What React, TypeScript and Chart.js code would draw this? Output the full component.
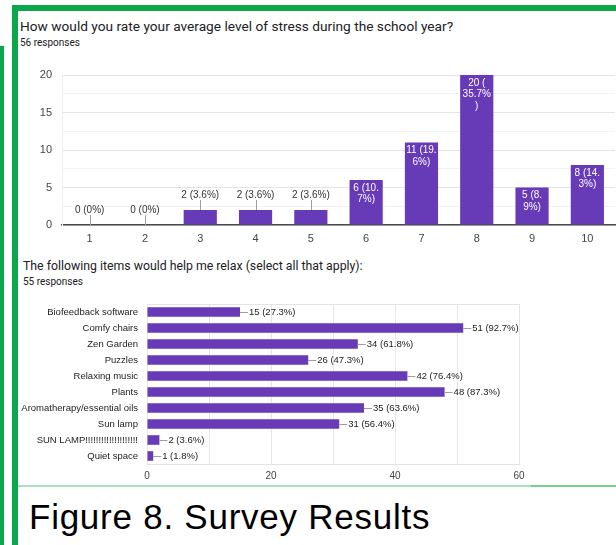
import React, { useEffect, useRef } from 'react';
import { Chart, registerables } from 'chart.js';

Chart.register(...registerables);

// ---- Data: chart 1 (stress level) ----
const stressLevels = ['1', '2', '3', '4', '5', '6', '7', '8', '9', '10'];
const stressCounts = [0, 0, 2, 2, 2, 6, 11, 20, 5, 8];
const stressLabelLines = [
  ['0 (0%)'],
  ['0 (0%)'],
  ['2 (3.6%)'],
  ['2 (3.6%)'],
  ['2 (3.6%)'],
  ['6 (10.', '7%)'],
  ['11 (19.', '6%)'],
  ['20 (', '35.7%', ')'],
  ['5 (8.', '9%)'],
  ['8 (14.', '3%)'],
];
const stressTicks = [0, 5, 10, 15, 20];

// ---- Data: chart 2 (relax items) ----
const relaxItems = [
  'Biofeedback software',
  'Comfy chairs',
  'Zen Garden',
  'Puzzles',
  'Relaxing music',
  'Plants',
  'Aromatherapy/essential oils',
  'Sun lamp',
  'SUN LAMP!!!!!!!!!!!!!!!!!!!!',
  'Quiet space',
];
const relaxCounts = [15, 51, 34, 26, 42, 48, 35, 31, 2, 1];
const relaxPercents = ['27.3%', '92.7%', '61.8%', '47.3%', '76.4%', '87.3%', '63.6%', '56.4%', '3.6%', '1.8%'];
const relaxTicks = [0, 20, 40, 60];

const PURPLE = '#673ab7';
const GREEN = '#0aa84b';
const FONT = 'Arial, "Liberation Sans", sans-serif';
const CLEAR = 'rgba(0,0,0,0)';

const stressLabelPlugin = {
  id: 'stressLabels',
  afterDatasetsDraw(chart: any) {
    const ctx = chart.ctx;
    const meta = chart.getDatasetMeta(0);
    meta.data.forEach((bar: any, i: number) => {
      const v = stressCounts[i];
      const lines = stressLabelLines[i];
      const x = bar.x;
      const y = bar.y;
      ctx.save();
      ctx.font = `10px ${FONT}`;
      ctx.textAlign = 'center';
      ctx.textBaseline = 'middle';
      if (v <= 2) {
        ctx.strokeStyle = '#9e9e9e';
        ctx.lineWidth = 1;
        ctx.beginPath();
        ctx.moveTo(Math.round(x) + 0.5, y);
        ctx.lineTo(Math.round(x) + 0.5, y - 10);
        ctx.stroke();
        ctx.fillStyle = '#333';
        ctx.fillText(lines.join(''), x, y - 15);
      } else {
        ctx.fillStyle = '#ffffff';
        lines.forEach((ln, k) => ctx.fillText(ln, x, y + 8 + k * 11.5));
      }
      ctx.restore();
    });
  },
};

const relaxLabelPlugin = {
  id: 'relaxLabels',
  afterDatasetsDraw(chart: any) {
    const ctx = chart.ctx;
    const meta = chart.getDatasetMeta(0);
    meta.data.forEach((bar: any, i: number) => {
      const x = bar.x;
      const y = bar.y;
      ctx.save();
      ctx.strokeStyle = '#9e9e9e';
      ctx.lineWidth = 1;
      ctx.beginPath();
      ctx.moveTo(x, Math.round(y) + 0.5);
      ctx.lineTo(x + 8, Math.round(y) + 0.5);
      ctx.stroke();
      ctx.font = `9.5px ${FONT}`;
      ctx.textAlign = 'left';
      ctx.textBaseline = 'middle';
      ctx.fillStyle = '#222';
      ctx.fillText(`${relaxCounts[i]} (${relaxPercents[i]})`, x + 9, y);
      ctx.restore();
    });
  },
};

const boxPlugin = {
  id: 'boxTop',
  beforeDatasetsDraw(chart: any) {
    const { ctx, chartArea } = chart;
    ctx.save();
    ctx.strokeStyle = '#e3e3e3';
    ctx.lineWidth = 1;
    ctx.beginPath();
    ctx.moveTo(chartArea.left, Math.round(chartArea.top) + 0.5);
    ctx.lineTo(chartArea.right, Math.round(chartArea.top) + 0.5);
    ctx.stroke();
    ctx.restore();
  },
};

function StressChart() {
  const ref = useRef<HTMLCanvasElement>(null);
  useEffect(() => {
    const chart = new Chart(ref.current as HTMLCanvasElement, {
      type: 'bar',
      data: {
        labels: stressLevels,
        datasets: [
          {
            data: stressCounts,
            backgroundColor: PURPLE,
            barPercentage: 0.6,
            categoryPercentage: 1,
          },
        ],
      },
      options: {
        responsive: false,
        animation: false,
        devicePixelRatio: 1,
        layout: { padding: { top: 13, right: 1, left: 0, bottom: 0 } },
        plugins: { legend: { display: false }, tooltip: { enabled: false } },
        scales: {
          x: {
            grid: { display: false, drawTicks: false },
            border: { color: '#4a4a4a', width: 1.5 },
            ticks: { color: '#444', font: { size: 11, family: FONT }, padding: 7 },
            afterFit(s: any) {
              s.height = 22;
            },
          },
          y: {
            min: 0,
            max: 20,
            ticks: {
              stepSize: 2.5,
              autoSkip: false,
              color: '#444',
              font: { size: 11, family: FONT },
              padding: 0,
              callback: (v: any) => (stressTicks.includes(Number(v)) ? String(v) : ''),
            },
            grid: {
              drawTicks: true,
              tickLength: 10,
              tickColor: CLEAR,
              color: (c: any) => (c.tick && c.tick.value % 5 === 0 ? '#e4e4e4' : '#f3f3f3'),
            },
            border: { display: true, color: '#eeeeee' },
            afterFit(s: any) {
              s.width = 42;
            },
          },
        },
      } as any,
      plugins: [stressLabelPlugin],
    });
    return () => chart.destroy();
  }, []);
  return <canvas ref={ref} width={596} height={185} style={{ position: 'absolute', left: 20, top: 62, width: 596, height: 185 }} />;
}

function RelaxChart() {
  const ref = useRef<HTMLCanvasElement>(null);
  useEffect(() => {
    const chart = new Chart(ref.current as HTMLCanvasElement, {
      type: 'bar',
      data: {
        labels: relaxItems,
        datasets: [
          {
            data: relaxCounts,
            backgroundColor: PURPLE,
            barPercentage: 0.6,
            categoryPercentage: 1,
          },
        ],
      },
      options: {
        indexAxis: 'y',
        responsive: false,
        animation: false,
        devicePixelRatio: 1,
        layout: { padding: { top: 8, right: 97, left: 0, bottom: 0 } },
        plugins: { legend: { display: false }, tooltip: { enabled: false } },
        scales: {
          x: {
            min: 0,
            max: 60,
            ticks: {
              stepSize: 10,
              autoSkip: false,
              maxRotation: 0,
              color: '#444',
              font: { size: 10, family: FONT },
              padding: 6,
              callback: (v: any) => (relaxTicks.includes(Number(v)) ? String(v) : ''),
            },
            grid: { color: '#e6e6e6', drawTicks: false },
            border: { color: '#e3e3e3' },
            afterFit(s: any) {
              s.height = 22;
            },
          },
          y: {
            grid: { display: true, drawOnChartArea: false, drawTicks: true, tickLength: 9, tickColor: CLEAR, color: CLEAR },
            border: { color: '#e3e3e3' },
            ticks: { color: '#222', font: { size: 9.5, family: FONT }, padding: 0, autoSkip: false },
            afterFit(s: any) {
              s.width = 127;
            },
          },
        },
      } as any,
      plugins: [boxPlugin, relaxLabelPlugin],
    });
    return () => chart.destroy();
  }, []);
  return <canvas ref={ref} width={596} height={190} style={{ position: 'absolute', left: 20, top: 296, width: 596, height: 190 }} />;
}

export default function App() {
  const box = (l: number, t: number, w: number, h: number, c: string): React.CSSProperties => ({
    position: 'absolute',
    left: l,
    top: t,
    width: w,
    height: h,
    background: c,
  });
  const text = (l: number, t: number, size: number, lh: number, color: string, family: string, ls = 0): React.CSSProperties => ({
    position: 'absolute',
    left: l,
    top: t,
    fontSize: size,
    lineHeight: `${lh}px`,
    color,
    fontFamily: family,
    whiteSpace: 'nowrap',
    letterSpacing: ls,
  });
  return (
    <div style={{ position: 'fixed', left: 0, top: 0, width: 616, height: 545, background: '#fff', overflow: 'hidden' }}>
      <div style={box(0, 46, 4, 499, GREEN)} />
      <div style={box(12, 5, 6, 540, GREEN)} />
      <div style={box(12, 5, 604, 6, GREEN)} />
      <div style={box(18, 485, 513, 1.5, '#a8dfbc')} />
      <div style={box(531, 485, 85, 2, '#7ccb9b')} />

      <div style={text(20, 18, 13.7, 16, '#202124', 'Roboto, Arial, sans-serif')}>
        How would you rate your average level of stress during the school year?
      </div>
      <div style={text(20, 36.6, 10, 12, '#202124', 'Roboto, Arial, sans-serif')}>56 responses</div>

      <StressChart />

      <div style={text(23, 258.5, 12.3, 15, '#202124', 'Roboto, Arial, sans-serif')}>
        The following items would help me relax (select all that apply):
      </div>
      <div style={text(23, 276.3, 10, 12, '#202124', 'Roboto, Arial, sans-serif')}>55 responses</div>

      <RelaxChart />

      <div style={text(29, 498.2, 35, 38, '#000', 'Arial, "Liberation Sans", sans-serif', 0.75)}>Figure 8. Survey Results</div>
    </div>
  );
}
